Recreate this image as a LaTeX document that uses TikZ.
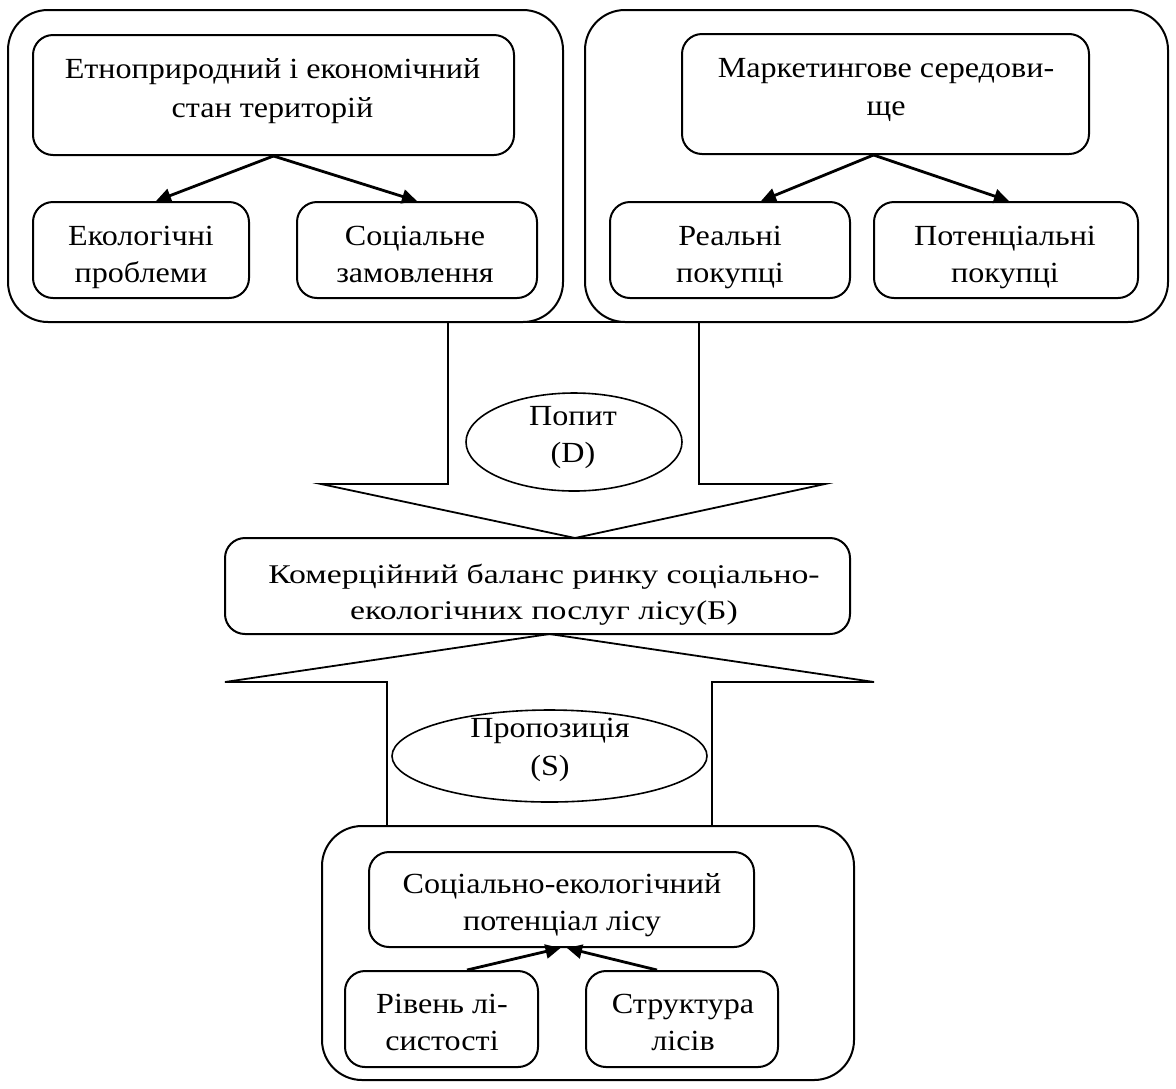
\documentclass[tikz,border=0pt]{standalone}
\usepackage{fontspec}
\setmainfont{Liberation Serif}[FakeStretch=1.1]
\newfontfamily\balfont{Liberation Serif}[FakeStretch=1.25]
\usetikzlibrary{arrows.meta,shapes.geometric}
\begin{document}
\begin{tikzpicture}[x=0.5pt,y=-0.5pt,
  outerbox/.style={draw,line width=1pt,rounded corners=20pt,inner sep=0pt},
  innerbox/.style={draw,line width=1pt,rounded corners=10pt,inner sep=0pt},
  txt/.style={font=\fontsize{14.6pt}{#1}\selectfont,align=center,anchor=base,inner sep=0pt},
  txt/.default=18.5pt,
  conn/.style={line width=1.4pt,-{Triangle[length=7.5pt,width=7pt]}},
  bigarrow/.style={draw,line width=0.9pt,fill=white,line join=miter},
  oval/.style={ellipse,draw,line width=0.8pt,inner sep=0pt}]
\useasboundingbox (0,0) rectangle (1176,1088);
\fill[white] (0,0) rectangle (1176,1088);

% big block arrows
\draw[bigarrow] (448,322) -- (448,484) -- (321,484) -- (575,538) -- (825,484) -- (699,484) -- (699,322) -- cycle;
\draw[bigarrow] (387,826) -- (387,682) -- (225,682) -- (549.5,634) -- (874,682) -- (712,682) -- (712,826) -- cycle;

% top-left group
\node[outerbox,minimum width=277.5pt,minimum height=156pt] (ol) at (285.5,166) {};
\node[innerbox,minimum width=240.5pt,minimum height=60pt] (a1) at (273.5,95) {};
\node[innerbox,minimum width=108pt,minimum height=48pt] (a2) at (141,250) {};
\node[innerbox,minimum width=120pt,minimum height=48pt] (a3) at (417,250) {};
\node[txt=19.5pt] (a1t) at (272.5,117) {Етноприродний і економічний\\стан територій};
\node[txt] (a2t) at (141,282) {Екологічні\\проблеми};
\node[txt] (a3t) at (415,282) {Соціальне\\замовлення};
\draw[conn] (a1.south) -- ([xshift=7.5pt]a2.north);
\draw[conn] (a1.south) -- (a3.north);

% top-right group
\node[outerbox,minimum width=291.5pt,minimum height=156pt] (or) at (876.5,166) {};
\node[innerbox,minimum width=203.5pt,minimum height=60pt] (b1) at (885.5,94) {};
\node[innerbox,minimum width=120pt,minimum height=48pt] (b2) at (730,250) {};
\node[innerbox,minimum width=132pt,minimum height=48pt] (b3) at (1006,250) {};
\node[txt=19pt] (b1t) at (886,115) {Маркетингове середови-\\ще};
\node[txt] (b2t) at (730,282) {Реальні\\покупці};
\node[txt] (b3t) at (1005,282) {Потенціальні\\покупці};
\draw[conn] ([xshift=-6pt]b1.south) -- ([xshift=15.5pt]b2.north);
\draw[conn] ([xshift=-6pt]b1.south) -- ([xshift=1.5pt]b3.north);

% demand ellipse
\node[oval,minimum width=108pt,minimum height=49pt] (dem) at (574,442) {};
\node[txt] (demt) at (573,462) {Попит\\(D)};

% balance
\node[innerbox,minimum width=312.5pt,minimum height=48pt] (bal) at (537.5,586) {};
\node[txt=18pt,font=\balfont\fontsize{13.5pt}{18pt}\selectfont] (balt) at (544,619) {Комерційний баланс ринку соціально-\\екологічних послуг лісу(Б)};

% supply ellipse
\node[oval,minimum width=157.5pt,minimum height=46pt] (sup) at (549.5,756) {};
\node[txt=19pt] (supt) at (550,775) {Пропозиція\\(S)};

% bottom group
\node[outerbox,minimum width=266pt,minimum height=127pt] (ob) at (588,953) {};
\node[innerbox,minimum width=192.5pt,minimum height=47.5pt] (c1) at (561.5,899.5) {};
\node[innerbox,minimum width=96.5pt,minimum height=48pt] (c2) at (441.5,1019) {};
\node[innerbox,minimum width=96pt,minimum height=48pt] (c3) at (682,1019) {};
\node[txt] (c1t) at (562,930) {Соціально-екологічний\\потенціал лісу};
\node[txt] (c2t) at (442,1050) {Рівень лі-\\систості};
\node[txt] (c3t) at (683,1050) {Структура\\лісів};
\draw[conn] ([xshift=12.75pt]c2.north) -- ([xshift=-0.5pt]c1.south);
\draw[conn] ([xshift=-12.5pt]c3.north) -- ([xshift=2.75pt]c1.south);
\end{tikzpicture}
\end{document}
